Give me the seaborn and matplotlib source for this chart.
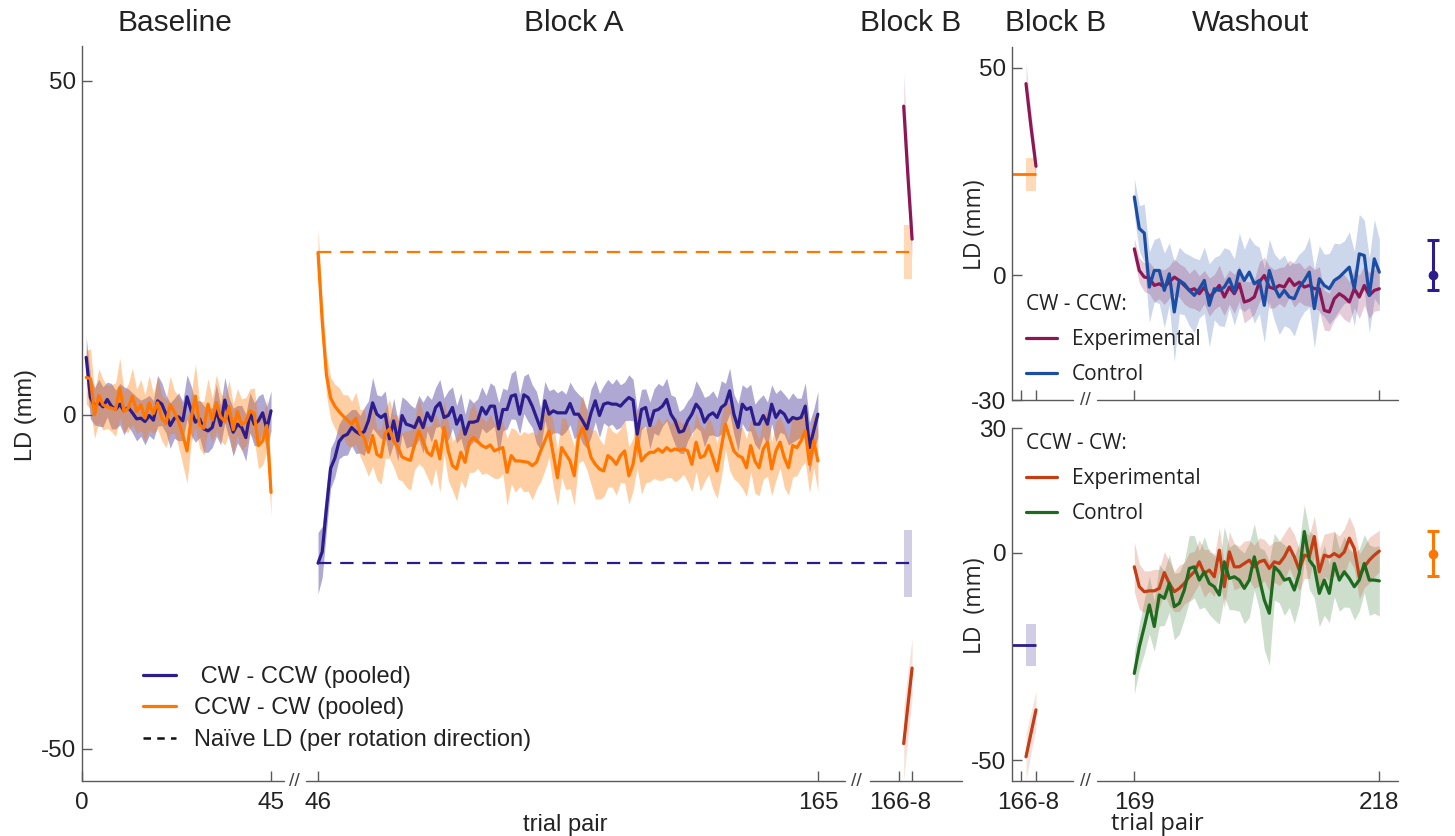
import numpy as np
import pandas as pd
import matplotlib
matplotlib.use("Agg")
import matplotlib.pyplot as plt
import seaborn as sns
from matplotlib.lines import Line2D

# ---------------- data ----------------
base_trials = list(range(1, 46))
blockA_trials = list(range(46, 166))
blockB_trials = [166, 167, 168]
wash_trials = list(range(169, 219))

# pooled CW-CCW (purple) and CCW-CW (orange), baseline
cw_base = [8.6, 2.6, 1.3, 1.8, 1.2, 2.3, 1.3, 0.8, 1.6, 0.6,
           1.1, 0.3, -0.6, -0.5, -1.0, -0.1, -0.8, 2.1, 1.6, 0.1,
           -1.6, -0.5, -0.3, -0.9, 2.7, 0.6, -1.1, -0.6, -2.1, -2.4,
           -1.9, 0.7, -1.6, 2.2, -0.5, -2.6, -1.4, -1.9, -3.4, 0.3,
           -1.4, -0.9, 0.3, -2.1, 0.6]
cw_base_se = [3.0, 3.2, 2.8, 3.5, 3.0, 2.6, 3.4, 2.9, 3.1, 3.6,
              2.8, 3.0, 3.3, 2.7, 3.5, 3.0, 2.9, 3.8, 3.2, 2.8,
              3.4, 3.0, 3.6, 2.9, 3.3, 3.7, 3.0, 2.8, 3.5, 3.2,
              3.0, 3.9, 2.9, 3.4, 3.1, 3.6, 2.8, 3.3, 3.5, 3.0,
              3.2, 3.7, 2.9, 3.3, 3.0]
ccw_base = [5.6, 5.4, 0.0, 2.9, 1.5, 1.2, 1.0, 0.8, 4.0, 0.5,
            1.0, 2.8, 0.5, 1.5, -0.5, 1.8, 0.2, 1.8, -0.5, -1.3,
            1.5, 0.4, -1.0, -3.0, -5.4, -0.5, 2.8, -1.5, -2.0, 1.6,
            -0.8, 1.8, -0.3, -1.0, 1.2, -2.2, 0.5, -1.5, -1.0, 0.6,
            0.2, -4.6, -3.9, -1.6, -11.6]
ccw_base_se = [4.0, 4.5, 3.5, 4.0, 3.8, 3.2, 3.5, 4.0, 4.5, 3.0,
               3.6, 4.2, 3.3, 3.8, 3.5, 4.1, 3.0, 3.9, 3.4, 3.6,
               4.3, 3.2, 3.8, 4.5, 4.8, 3.6, 4.8, 3.5, 4.0, 3.8,
               3.3, 4.2, 3.6, 3.5, 4.0, 3.8, 3.4, 3.9, 3.6, 3.3,
               3.8, 3.5, 3.6, 3.9, 3.5]

# Block A
cw_A = [-22.2, -20.5, -14.0, -8.0, -6.5, -4.0, -3.2, -2.9, -1.9, -2.5,
        -2.9, -2.5, -0.9, 1.8, 0.1, -0.4, 0.1, -3.6, -0.9, -3.9,
        -0.1, -1.4, -1.6, -1.9, -0.4, -1.9, 0.3, -0.9, 1.1, 1.8,
        -0.4, -0.1, 1.1, -1.4, -0.1, -2.9, -1.1, -1.1, -0.9, 1.1,
        0.1, 1.3, 1.3, -2.1, 0.8, 0.8, 2.8, 3.0, 0.1, 3.0,
        2.6, 1.3, -0.4, -2.1, 2.1, 0.1, 0.6, 0.3, 0.3, 0.3,
        1.7, 0.1, 0.1, -0.9, -2.1, 0.3, 2.1, -0.1, 1.6, 1.8,
        1.6, 1.6, 1.3, 2.0, 2.6, 2.2, -2.9, 0.8, 1.1, -1.6,
        0.6, 0.8, 1.3, 2.3, 0.1, -0.9, -2.6, -2.4, -0.9, 0.1,
        1.6, 0.8, -1.1, -0.1, 0.3, -0.4, 1.1, 1.6, 3.6, 0.1,
        -1.9, 1.6, 0.8, 1.1, -1.4, -1.4, -0.1, -1.4, 1.6, -0.4,
        0.6, 0.1, -1.1, -0.4, -0.6, -0.4, 1.3, -4.9, -2.4, 0.1]
cw_A_se = [4.6, 3.8, 3.4, 3.0, 2.8, 2.6, 2.9, 3.1, 2.7, 3.3,
           2.8, 3.6, 3.0, 3.8, 2.9, 3.2, 3.5, 2.7, 3.4, 3.0,
           2.8, 3.6, 3.1, 2.9, 3.3, 3.8, 2.7, 3.2, 3.0, 3.5,
           2.9, 3.7, 3.1, 2.8, 3.4, 3.0, 3.6, 2.9, 3.3, 3.1,
           2.8, 3.5, 3.0, 3.9, 3.2, 2.9, 3.4, 3.7, 3.0, 2.8,
           3.6, 3.2, 3.9, 3.1, 2.9, 3.5, 3.3, 3.0, 3.4, 2.8,
           3.2, 3.7, 3.0, 3.4, 2.9, 3.6, 3.1, 3.3, 2.8, 3.5,
           3.0, 3.8, 3.2, 2.9, 3.4, 3.1, 3.6, 3.0, 2.8, 3.5,
           3.3, 3.9, 3.0, 3.2, 2.9, 3.6, 3.1, 3.4, 3.0, 2.8,
           3.5, 3.2, 3.7, 3.0, 3.3, 2.9, 4.0, 3.1, 3.4, 3.0,
           3.6, 2.9, 3.2, 3.5, 3.0, 3.8, 3.1, 3.3, 2.9, 3.6,
           3.2, 3.0, 3.4, 3.7, 3.1, 2.9, 3.5, 3.8, 3.2, 3.4]
ccw_A = [24.3, 14.0, 6.0, 2.5, 1.3, 0.5, -0.2, -0.8, -1.4, -0.5,
         -2.7, -3.4, -5.6, -3.1, -5.9, -6.3, -2.8, -2.1, -3.9, -4.8,
         -6.3, -6.6, -6.8, -4.4, -2.4, -3.9, -5.6, -6.1, -3.9, -6.6,
         -1.9, -5.4, -7.6, -8.1, -5.6, -7.1, -4.1, -3.4, -4.0, -4.6,
         -4.9, -4.5, -5.4, -5.1, -4.9, -8.6, -6.1, -6.9, -6.9, -7.0,
         -7.1, -7.6, -7.1, -5.4, -3.9, -2.4, -5.9, -9.4,
         -4.9, -5.9, -6.9, -9.1, -3.4, -1.9, -3.9, -6.4, -7.4, -8.1,
         -8.4, -6.1, -6.6, -7.4, -6.1, -5.4, -9.1, -7.4, -3.4, -6.9,
         -6.1, -5.6, -5.6, -5.1, -5.6, -4.9, -5.4, -5.1, -5.3, -5.1,
         -5.4, -7.4, -4.1, -6.4, -6.1, -4.6, -6.4, -8.4, -4.9, -1.4,
         -3.4, -5.4, -6.1, -6.4, -7.9, -4.6, -6.9, -7.9, -5.1, -4.1,
         -8.1, -5.4, -4.1, -6.4, -7.9, -4.6, -4.9, -3.9, -2.4, -7.4,
         -3.9, -6.9]
ccw_A_se = [3.5, 3.2, 3.0, 3.1, 3.3, 3.6, 3.2, 3.8, 3.4, 3.9,
            3.5, 4.2, 3.6, 4.6, 3.8, 4.1, 3.7, 4.4, 3.9, 4.8,
            3.6, 4.2, 4.5, 3.8, 4.9, 4.0, 3.7, 4.6, 4.1, 5.0,
            3.9, 4.4, 3.7, 4.8, 4.2, 3.9, 4.5, 5.2, 4.0, 4.3,
            3.8, 4.6, 4.1, 4.4, 3.9, 5.0, 4.2, 4.7, 3.8, 4.5,
            4.3, 5.1, 4.0, 4.6, 4.4, 3.9, 4.8, 4.2, 4.5, 5.3,
            4.1, 4.4, 3.8, 4.9, 4.3, 4.0, 5.2, 4.5, 3.9, 4.7,
            4.2, 4.6, 4.0, 4.8, 4.3, 3.9, 4.5, 5.0, 4.1, 4.4,
            3.9, 4.7, 4.2, 4.5, 4.0, 4.9, 4.3, 3.8, 4.6, 4.1,
            4.4, 5.0, 3.9, 4.3, 4.7, 4.1, 4.5, 3.8, 4.9, 4.2,
            4.0, 4.6, 4.3, 3.9, 4.8, 4.2, 4.5, 5.1, 4.0, 4.4,
            3.8, 4.5, 4.1, 4.7, 4.2, 3.9, 4.6, 4.3, 4.0, 4.5]

# Naive LD (per rotation direction)
naive_ccw_cw, naive_ccw_cw_se = 24.4, 4.0
naive_cw_ccw, naive_cw_ccw_se = -22.2, 5.0

# Block B, experimental groups
cw_exp_B = [46.2, 35.8, 26.3]
cw_exp_B_se = [5.0, 4.0, 3.0]
ccw_exp_B = [-49.2, -43.5, -37.9]
ccw_exp_B_se = [5.5, 5.0, 4.5]

# Washout
cw_exp_W = [6.4, 1.2, -0.4, -0.6, -2.4, -2.0, -2.8, -1.6, -0.4, -1.2,
            -2.4, -3.6, -3.2, -4.4, -2.8, -5.2, -4.0, -2.4, -5.2, -2.8,
            -4.4, -2.0, -6.4, -6.0, -5.2, -1.6, 0.0, -2.8, -3.2, -2.4,
            -2.8, -0.8, -2.4, -1.6, -2.8, -2.4, -3.2, -3.2, -8.4, -8.8,
            -5.6, -4.4, -5.2, -6.4, -3.2, -5.2, -2.4, -4.8, -3.6, -3.2]
cw_exp_W_se = [2.5, 3.0, 3.5, 3.8, 4.0, 3.6, 4.2, 3.9, 4.4, 4.0,
               4.5, 4.1, 4.8, 4.3, 4.0, 4.6, 4.2, 4.9, 4.4, 4.1,
               4.7, 4.3, 5.0, 4.5, 4.2, 4.8, 4.4, 5.1, 4.6, 4.3,
               4.9, 4.5, 5.2, 4.7, 4.4, 5.0, 4.6, 5.3, 4.8, 4.5,
               5.1, 4.7, 5.4, 4.9, 4.6, 5.2, 4.8, 5.5, 5.0, 5.2]
cw_ctl_W = [18.9, 11.3, 10.2, -2.8, 1.2, 1.2, -3.6, 0.4, -8.8, -1.2,
            -2.0, -3.6, -4.8, -3.2, -1.2, -7.2, -3.2, -3.6, -2.8, -0.8,
            -4.0, 1.2, -1.2, 0.8, -2.0, -1.2, -7.2, 1.2, -2.8, -5.2,
            -3.6, -5.2, -5.6, -2.8, -1.2, 0.8, -8.0, -0.8, -2.4, -3.2,
            -1.2, -0.4, 0.8, 2.0, -3.2, 5.2, 4.8, -4.8, 4.0, 0.8]
cw_ctl_W_se = [4.5, 5.5, 7.0, 8.5, 7.5, 8.0, 9.0, 7.5, 12.0, 8.0,
               7.5, 8.5, 9.0, 7.0, 8.0, 10.0, 7.5, 8.5, 9.5, 7.0,
               8.0, 9.0, 7.5, 8.5, 9.5, 8.0, 9.0, 7.5, 8.0, 9.0,
               8.5, 7.5, 9.0, 8.0, 7.5, 8.5, 9.5, 8.0, 7.5, 8.5,
               9.0, 8.0, 7.5, 8.5, 9.0, 9.5, 8.5, 9.0, 9.5, 8.0]
ccw_exp_W = [-3.4, -8.2, -9.4, -9.2, -9.2, -8.6, -4.8, -7.4, -9.4, -8.6,
             -7.4, -5.8, -4.6, -2.2, -5.0, -4.2, -5.8, 0.6, -8.2, 0.2,
             -3.4, -3.4, -2.6, -1.8, -3.4, -2.2, -1.8, -3.8, -2.2, -2.6,
             -1.0, 1.4, -1.0, -4.2, -0.6, -1.0, 3.9, -4.6, -0.6, -1.0,
             -0.2, -1.0, 0.2, 3.5, 1.0, -5.8, -3.4, -1.8, -0.6, 0.4]
ccw_exp_W_se = [6.0, 5.5, 5.0, 4.8, 5.2, 4.6, 5.0, 5.4, 4.8, 5.6,
                5.0, 5.8, 4.9, 5.3, 5.7, 5.1, 4.8, 5.5, 5.2, 4.9,
                5.6, 5.0, 5.4, 4.8, 5.2, 5.8, 5.0, 5.5, 4.9, 5.3,
                5.7, 5.1, 5.4, 5.0, 5.6, 5.2, 4.9, 5.5, 5.1, 5.8,
                5.3, 5.0, 5.6, 5.2, 4.9, 5.4, 5.0, 5.5, 5.2, 5.0]
ccw_ctl_W = [-29.1, -22.7, -17.8, -12.6, -17.8, -10.2, -11.0, -7.4, -13.0, -12.2,
             -9.0, -3.8, -3.4, -6.6, -4.6, -7.4, -8.2, -10.2, -2.2, -6.2,
             -5.8, -6.6, -8.6, -6.6, -1.0, -6.2, -11.4, -14.6, -3.4, -4.6,
             -6.6, -6.2, -9.0, -5.0, 5.1, -1.8, -3.4, -9.8, -6.6, -9.8,
             -2.6, -6.6, -4.6, -6.2, -8.2, -6.6, -2.6, -6.6, -6.6, -6.8]
ccw_ctl_W_se = [5.0, 5.5, 6.5, 7.0, 6.0, 7.5, 6.5, 7.0, 8.0, 7.5,
                7.0, 8.0, 7.5, 7.0, 8.5, 7.5, 8.0, 7.0, 8.5, 7.5,
                8.0, 7.5, 8.5, 9.0, 8.0, 7.5, 12.0, 12.5, 8.0, 7.5,
                8.5, 7.0, 8.0, 7.5, 6.5, 7.0, 7.5, 8.0, 8.5, 7.0,
                8.0, 7.5, 8.5, 7.0, 8.0, 7.5, 7.0, 8.5, 8.0, 8.5]

# summary points at right of washout panels (mean, lower err, upper err)
cw_summary = [0.0, 3.5, 8.6]
ccw_summary = [-0.2, 5.5, 5.5]

# tick labels
left_tick_labels = ["0", "45", "46", "165"]
blockB_label = "166-8"
right_tick_labels = ["169", "218"]

# ---------------- style ----------------
PURPLE = "#2D1C8C"
ORANGE = "#FF7700"
MAGENTA = "#8C1756"
BLUE = "#1B4DA5"
RED = "#C43D14"
GREEN = "#1E6A1E"
SPINE = "#5a5a5a"
TXT = "#222222"
TICK_FS = 17.5

sns.set_theme(style="ticks")
plt.rcParams["font.family"] = ["Liberation Sans", "DejaVu Sans"]
plt.rcParams["axes.edgecolor"] = SPINE
plt.rcParams["axes.linewidth"] = 1.0
plt.rcParams["text.color"] = TXT
plt.rcParams["xtick.color"] = SPINE
plt.rcParams["ytick.color"] = SPINE
plt.rcParams["xtick.labelcolor"] = TXT
plt.rcParams["ytick.labelcolor"] = TXT

W, H = 1455, 836
fig = plt.figure(figsize=(W / 100, H / 100), dpi=100)
fig.patch.set_facecolor("white")


def px_axes(x0, y0, x1, y1):
    return fig.add_axes([x0 / W, 1 - y1 / H, (x1 - x0) / W, (y1 - y0) / H])


axL = px_axes(82, 46, 962, 781)
axRT = px_axes(1012, 46.7, 1450, 400)
axRB = px_axes(1012, 428.3, 1450, 781)

# position offsets for broken axes
OFF_A = 10.19
OFF_B = 29.62
OFF_W = 18.66
R_XMIN, R_XMAX = 163.2, 250.8
SUM_X = 247.46

axL.set_xlim(0, 209.5)
axL.set_ylim(-54.8, 55.2)
axRT.set_xlim(R_XMIN, R_XMAX)
axRT.set_ylim(-30, 55.1)
axRB.set_xlim(R_XMIN, R_XMAX)
axRB.set_ylim(-55.05, 30)


def band(ax, trials, offset, mean, se, color, alpha):
    x = np.asarray(trials, float) + offset
    m = np.asarray(mean, float)
    s = np.asarray(se, float)
    ax.fill_between(x, m - s, m + s, color=color, alpha=alpha, lw=0, zorder=1)


def line(ax, trials, offset, mean, color, lw=2.3, z=3):
    df = pd.DataFrame({"pos": np.asarray(trials, float) + offset, "LD": mean})
    sns.lineplot(data=df, x="pos", y="LD", ax=ax, color=color, lw=lw,
                 legend=False, errorbar=None, sort=False, zorder=z)


# ---- left panel ----
band(axL, base_trials, 0, cw_base, cw_base_se, PURPLE, 0.38)
band(axL, base_trials, 0, ccw_base, ccw_base_se, ORANGE, 0.36)
band(axL, blockA_trials, OFF_A, cw_A, cw_A_se, PURPLE, 0.38)
band(axL, blockA_trials, OFF_A, ccw_A, ccw_A_se, ORANGE, 0.36)
line(axL, base_trials, 0, cw_base, PURPLE, z=3)
line(axL, base_trials, 0, ccw_base, ORANGE, z=4)
line(axL, blockA_trials, OFF_A, cw_A, PURPLE, z=3)
line(axL, blockA_trials, OFF_A, ccw_A, ORANGE, z=4)

# naive LD dashed lines + block B rects
for val, se, col, a in [(naive_ccw_cw, naive_ccw_cw_se, ORANGE, 0.28),
                        (naive_cw_ccw, naive_cw_ccw_se, PURPLE, 0.22)]:
    axL.hlines(val, blockA_trials[0] + OFF_A, blockB_trials[-1] + OFF_B,
               colors=col, linestyles=(0, (6, 4)), lw=1.6, zorder=2)
    axL.fill_between([blockB_trials[0] + OFF_B, blockB_trials[-1] + OFF_B],
                     val - se, val + se, color=col, alpha=a, lw=0, zorder=1)

band(axL, blockB_trials, OFF_B, cw_exp_B, cw_exp_B_se, MAGENTA, 0.15)
band(axL, blockB_trials, OFF_B, ccw_exp_B, ccw_exp_B_se, RED, 0.15)
line(axL, blockB_trials, OFF_B, cw_exp_B, MAGENTA)
line(axL, blockB_trials, OFF_B, ccw_exp_B, RED)

# ---- right panels ----
for ax, val, se, col, a in [(axRT, naive_ccw_cw, naive_ccw_cw_se, ORANGE, 0.28),
                            (axRB, naive_cw_ccw, naive_cw_ccw_se, PURPLE, 0.22)]:
    ax.hlines(val, R_XMIN, blockB_trials[-1], colors=col, lw=2.0, zorder=2)
    ax.fill_between([blockB_trials[0], blockB_trials[-1]], val - se, val + se,
                    color=col, alpha=a, lw=0, zorder=1)

band(axRT, blockB_trials, 0, cw_exp_B, cw_exp_B_se, MAGENTA, 0.15)
line(axRT, blockB_trials, 0, cw_exp_B, MAGENTA)
band(axRB, blockB_trials, 0, ccw_exp_B, ccw_exp_B_se, RED, 0.15)
line(axRB, blockB_trials, 0, ccw_exp_B, RED)

band(axRT, wash_trials, OFF_W, cw_ctl_W, cw_ctl_W_se, BLUE, 0.22)
band(axRT, wash_trials, OFF_W, cw_exp_W, cw_exp_W_se, MAGENTA, 0.22)
line(axRT, wash_trials, OFF_W, cw_exp_W, MAGENTA, z=3)
line(axRT, wash_trials, OFF_W, cw_ctl_W, BLUE, z=4)

band(axRB, wash_trials, OFF_W, ccw_ctl_W, ccw_ctl_W_se, GREEN, 0.22)
band(axRB, wash_trials, OFF_W, ccw_exp_W, ccw_exp_W_se, RED, 0.22)
line(axRB, wash_trials, OFF_W, ccw_exp_W, RED, z=3)
line(axRB, wash_trials, OFF_W, ccw_ctl_W, GREEN, z=4)

axRT.errorbar([SUM_X], [cw_summary[0]], yerr=[[cw_summary[1]], [cw_summary[2]]],
              fmt="o", color=PURPLE, ms=6, capsize=4, elinewidth=2.2,
              capthick=2.2, clip_on=False, zorder=5)
axRB.errorbar([SUM_X], [ccw_summary[0]], yerr=[[ccw_summary[1]], [ccw_summary[2]]],
              fmt="o", color=ORANGE, ms=6, capsize=4, elinewidth=2.2,
              capthick=2.2, clip_on=False, zorder=5)

# ---- axes decoration ----
for ax in (axL, axRT, axRB):
    ax.set_facecolor("none")
    for s in ("top", "right", "bottom"):
        ax.spines[s].set_visible(False)
    ax.set_xlabel("")
    ax.set_ylabel("")
    ax.tick_params(axis="both", which="major", direction="in", length=7,
                   width=1, labelsize=TICK_FS, pad=8)
    ax.tick_params(axis="x", which="minor", length=0, labelsize=TICK_FS, pad=8)
    ax.tick_params(axis="y", which="major", pad=4)


def spine_segments(ax, segs):
    for a, b in segs:
        ax.plot([a, b], [0, 0], transform=ax.get_xaxis_transform(),
                color=SPINE, lw=1.0, clip_on=False, zorder=6)


spine_segments(axL, [(0, 48.1), (53.3, 181.7), (187.6, 209.5)])
spine_segments(axRT, [(R_XMIN, 175.4), (180.2, 240.4)])
spine_segments(axRB, [(R_XMIN, 175.4), (180.2, 240.4)])

axL.set_yticks([-50, 0, 50])
axL.set_yticklabels(["-50", "0", "50"])
axL.set_xticks([0, 45, 46 + OFF_A, 165 + OFF_A, 165 + OFF_B, 168 + OFF_B])
axL.set_xticklabels(left_tick_labels + ["", ""])
axL.set_xticks([166.5 + OFF_B - 1.3], minor=True)
axL.set_xticklabels([blockB_label], minor=True)

axRT.set_yticks([-30, 0, 50])
axRT.set_yticklabels(["-30", "0", "50"])
axRT.set_xticks([165, 168, 169 + OFF_W, 218 + OFF_W])
axRT.set_xticklabels([])

axRB.set_yticks([-50, 0, 30])
axRB.set_yticklabels(["-50", "0", "30"])
axRB.set_xticks([165, 168, 169 + OFF_W, 218 + OFF_W])
axRB.set_xticklabels(["", ""] + right_tick_labels)
axRB.set_xticks([166.5], minor=True)
axRB.set_xticklabels([blockB_label], minor=True)

# y labels
axL.set_ylabel("LD (mm)", fontsize=17)
axL.yaxis.set_label_coords(-0.051, 0.498)
axRT.set_ylabel("LD (mm)", fontsize=16.5, family=["Open Sans", "DejaVu Sans"])
axRT.yaxis.set_label_coords(-0.058, 0.495)
axRB.set_ylabel("LD  (mm)", fontsize=16.5, family=["Open Sans", "DejaVu Sans"])
axRB.yaxis.set_label_coords(-0.058, 0.496)

# break marks
for xp, yp in [(294, 781), (856, 781), (1085, 400), (1085, 781)]:
    fig.text(xp / W, 1 - yp / H, "//", ha="center", va="center",
             fontsize=14, color="#444444")

# titles
for txt, xp in [("Baseline", 175), ("Block A", 574), ("Block B", 911),
                ("Block B", 1056), ("Washout", 1250)]:
    fig.text(xp / W, 1 - 23 / H, txt, ha="center", va="center", fontsize=21.5)

# x labels
fig.text(565 / W, 1 - 825 / H, "trial pair", ha="center", va="center", fontsize=17)
fig.text(1157 / W, 1 - 824 / H, "trial pair", ha="center", va="center",
         fontsize=17, family=["Open Sans", "DejaVu Sans"])

# legends
hL = [Line2D([], [], color=PURPLE, lw=2.3),
      Line2D([], [], color=ORANGE, lw=2.3),
      Line2D([], [], color="#111111", lw=1.8, ls=(0, (3, 2.5)))]
axL.legend(hL, [" CW - CCW (pooled)", "CCW - CW (pooled)",
                "Naïve LD (per rotation direction)"],
           loc="upper left", bbox_to_anchor=(143 / W, 1 - 666 / H),
           bbox_transform=fig.transFigure, frameon=False, fontsize=17,
           handlelength=1.4, handletextpad=0.75, labelspacing=0.4,
           borderpad=0, borderaxespad=0)

ofont = {"family": ["Open Sans", "DejaVu Sans"], "size": 15}
axRT.legend([Line2D([], [], color=MAGENTA, lw=2.3), Line2D([], [], color=BLUE, lw=2.3)],
            ["Experimental", "Control"], title="CW - CCW:", alignment="left",
            loc="upper left", bbox_to_anchor=(1026 / W, 1 - 294 / H),
            bbox_transform=fig.transFigure, frameon=False, prop=ofont,
            title_fontproperties=ofont, handlelength=1.5, handletextpad=0.7,
            labelspacing=0.68, borderpad=0, borderaxespad=0)
axRB.legend([Line2D([], [], color=RED, lw=2.3), Line2D([], [], color=GREEN, lw=2.3)],
            ["Experimental", "Control"], title="CCW - CW:", alignment="left",
            loc="upper left", bbox_to_anchor=(1026 / W, 1 - 433 / H),
            bbox_transform=fig.transFigure, frameon=False, prop=ofont,
            title_fontproperties=ofont, handlelength=1.5, handletextpad=0.7,
            labelspacing=0.68, borderpad=0, borderaxespad=0)

fig.savefig("out.png", dpi=100, facecolor="white")
